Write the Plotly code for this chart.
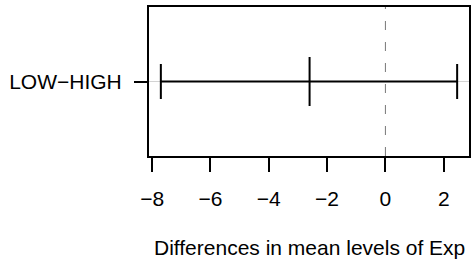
import plotly.graph_objects as go

comparisons = ["LOW−HIGH"]
diff = [-2.60]
lwr = [-7.70]
upr = [2.46]
x_ticks = [-8, -6, -4, -2, 0, 2]
x_title = "Differences in mean levels of Exp"

ypos = list(range(len(comparisons), 0, -1))
span = max(upr) - min(lwr)
xr = [min(lwr) - 0.04 * span, max(upr) + 0.04 * span]

fig = go.Figure()
fig.add_trace(go.Scatter(
    x=diff, y=ypos, mode="markers",
    marker=dict(symbol="line-ns", size=35, line=dict(width=2, color="black"), color="black"),
    error_x=dict(type="data", symmetric=False,
                 array=[u - d for u, d in zip(upr, diff)],
                 arrayminus=[d - l for d, l in zip(diff, lwr)],
                 color="black", thickness=2, width=17.5),
    showlegend=False, hoverinfo="skip",
))

for yv in ypos:
    fig.add_shape(type="line", xref="paper", yref="y", x0=0, x1=1, y0=yv, y1=yv,
                  line=dict(color="lightgray", width=1), layer="below")
fig.add_shape(type="line", xref="x", yref="paper", x0=0, x1=0, y0=0, y1=1,
              line=dict(color="#777777", width=1, dash="9px,12px"), layer="below")

font = "Liberation Sans, Arial, sans-serif"
fs = 21
fig.update_layout(
    width=474, height=263,
    margin=dict(l=149, r=5, t=7, b=107, autoexpand=False),
    plot_bgcolor="white", paper_bgcolor="white",
    font=dict(family=font, size=fs, color="black"),
    xaxis=dict(range=xr, tickvals=x_ticks, ticks="outside", ticklen=14, tickwidth=1.5,
               tickcolor="black", showgrid=False, zeroline=False, showline=True,
               linecolor="black", linewidth=2, mirror=True, ticklabelstandoff=9,
               tickfont=dict(size=fs), automargin=False),
    yaxis=dict(range=[0.5, len(comparisons) + 0.5], tickvals=ypos, ticktext=comparisons,
               ticks="outside", ticklen=13, tickwidth=1.5, tickcolor="black",
               showgrid=False, zeroline=False, showline=True, linecolor="black",
               linewidth=2, mirror=True, ticklabelstandoff=8, tickfont=dict(size=fs),
               automargin=False),
    annotations=[dict(text=x_title, xref="paper", yref="paper", x=0.5, y=0,
                      yshift=-91, yanchor="middle", xanchor="center", showarrow=False,
                      font=dict(size=fs))],
)
fig.write_html("out.html", config={"displayModeBar": False},
               post_script="document.body.style.margin='0';")
